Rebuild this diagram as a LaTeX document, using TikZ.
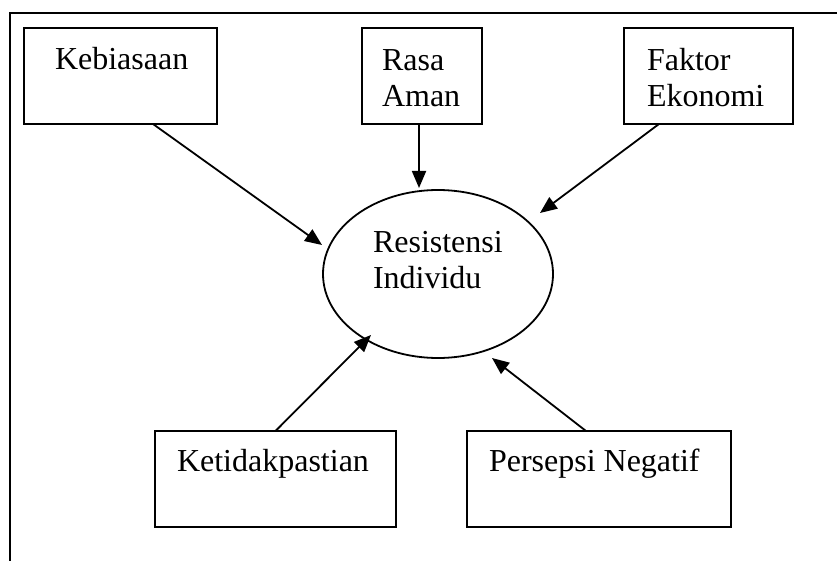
\documentclass[tikz,border=0pt]{standalone}
\usepackage{fontspec}
\setmainfont{Liberation Serif}
\usetikzlibrary{arrows.meta,shapes.geometric,calc}
\begin{document}
\begin{tikzpicture}[x=1pt,y=-1pt,
  box/.style={draw,line width=1.8pt,inner sep=0pt,outer sep=0pt,minimum height=96pt},
  lbl/.style={inner sep=0pt,outer sep=0pt,anchor=base west,align=left,
    font=\fontsize{32}{36}\selectfont},
  arr/.style={line width=1.8pt,-{Triangle[length=17pt,width=14pt]}},
  frame/.style={line width=2.5pt}]
\useasboundingbox (0,0) rectangle (837,561);
% frame
\coordinate (ftl) at (10,13);
\coordinate (ftr) at (837,13);
\coordinate (fbl) at (10,561);
\draw[frame] (ftr) -- (ftl) -- (fbl);
% boxes
\node[box,minimum width=193pt] (keb) at (120.5,76) {};
\node[box,minimum width=120pt] (rasa) at (422,76) {};
\node[box,minimum width=169pt] (fak) at (708.5,76) {};
\node[box,minimum width=241pt] (ket) at (275.5,479) {};
\node[box,minimum width=264pt] (per) at (599,479) {};
\node[draw,ellipse,line width=1.8pt,inner sep=0pt,outer sep=0pt,
  minimum width=230pt,minimum height=168pt] (ell) at (438,274) {};
% texts (base = baseline of last line)
\node[lbl] (tkeb) at (55,70) {Kebiasaan};
\node[lbl] (trasa) at (382,107) {Rasa\\Aman};
\node[lbl] (tfak) at (647,107) {Faktor\\Ekonomi};
\node[lbl] (tell) at (373,288) {Resistensi\\Individu};
\node[lbl] (tket) at (177,471) {Ketidakpastian};
\node[lbl] (tper) at (489,471) {Persepsi Negatif};
% arrow tips
\coordinate (e1) at (322,245);
\coordinate (e2) at (419,188);
\coordinate (e3) at (540,213);
\coordinate (e4) at (371,335);
\coordinate (e5) at (492,358);
% arrows
\draw[arr] ($(keb.south west)+(129,0)$) -- (e1);
\draw[arr] ($(rasa.south)+(-3,0)$) -- (e2);
\draw[arr] ($(fak.south west)+(35,0)$) -- (e3);
\draw[arr] (ket.north) -- (e4);
\draw[arr] ($(per.north)+(-13,0)$) -- (e5);
\end{tikzpicture}
\end{document}
